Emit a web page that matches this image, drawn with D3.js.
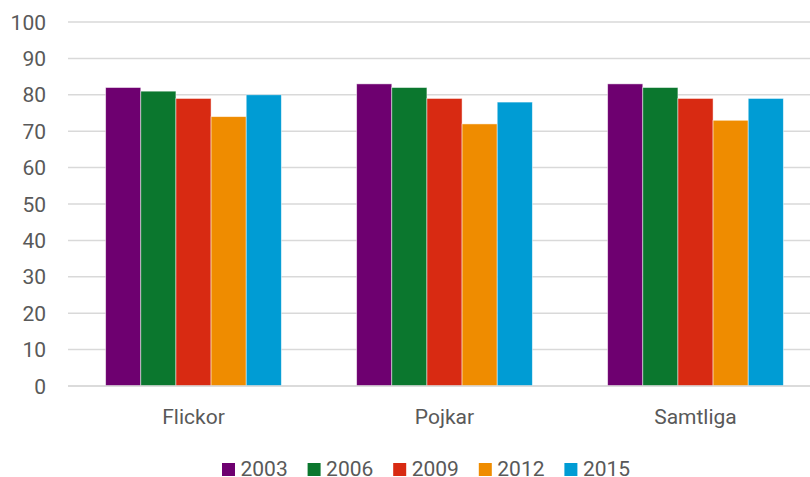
<!DOCTYPE html>
<html>
<head>
<meta charset="utf-8">
<style>
  body { margin: 0; background: #fff; }
  svg { display: block; font-family: Roboto, "Noto Sans", sans-serif; }
</style>
</head>
<body>
<script src="https://cdn.jsdelivr.net/npm/d3@7"></script>
<script>
  const width = 810
  const height = 477

  const categories = ["Flickor", "Pojkar", "Samtliga"]
  const years = ["2003", "2006", "2009", "2012", "2015"]
  const values2003 = [82, 83, 83]
  const values2006 = [81, 82, 82]
  const values2009 = [79, 79, 79]
  const values2012 = [74, 72, 73]
  const values2015 = [80, 78, 79]
  const yTicks = [0, 10, 20, 30, 40, 50, 60, 70, 80, 90, 100]
  const colors = ["#6e0070", "#0b772e", "#d82a12", "#ef8c00", "#009cd4"]

  const seriesValues = [values2003, values2006, values2009, values2012, values2015]

  const svg = d3.select("body")
    .append("svg")
    .attr("width", width)
    .attr("height", height)

  const x0 = d3.scaleBand()
    .domain(categories)
    .range([68, 821])
    .paddingInner(0.3)
    .paddingOuter(0.15)

  const x1 = d3.scaleBand()
    .domain(years)
    .range([0, x0.bandwidth()])

  const y = d3.scaleLinear()
    .domain([0, 100])
    .range([386, 22])

  const color = d3.scaleOrdinal().domain(years).range(colors)

  // gridlines
  svg.append("g")
    .selectAll("line")
    .data(yTicks)
    .enter()
    .append("line")
    .attr("x1", 68)
    .attr("x2", width)
    .attr("y1", d => y(d))
    .attr("y2", d => y(d))
    .attr("stroke", "#d9d9d9")
    .attr("stroke-width", 1.5)

  // y tick labels
  svg.append("g")
    .selectAll("text")
    .data(yTicks)
    .enter()
    .append("text")
    .attr("x", 46)
    .attr("y", d => y(d))
    .attr("dy", "0.36em")
    .attr("text-anchor", "end")
    .attr("font-size", 21)
    .attr("fill", "#595959")
    .text(d => d)

  // bars
  const groups = svg.append("g")
    .selectAll("g")
    .data(categories)
    .enter()
    .append("g")
    .attr("transform", d => `translate(${x0(d)},0)`)

  groups.selectAll("rect")
    .data((c, ci) => years.map((yr, si) => ({ year: yr, value: seriesValues[si][ci] })))
    .enter()
    .append("rect")
    .attr("x", d => x1(d.year))
    .attr("width", x1.bandwidth())
    .attr("y", d => y(d.value))
    .attr("height", d => y(0) - y(d.value))
    .attr("fill", d => color(d.year))
    .attr("stroke", "#fff")
    .attr("stroke-width", 0.8)
    .attr("stroke-opacity", 0.6)

  // baseline over bars
  svg.append("line")
    .attr("x1", 68)
    .attr("x2", width)
    .attr("y1", y(0))
    .attr("y2", y(0))
    .attr("stroke", "#d9d9d9")
    .attr("stroke-width", 1.5)

  // category labels
  svg.append("g")
    .selectAll("text")
    .data(categories)
    .enter()
    .append("text")
    .attr("x", d => x0(d) + x0.bandwidth() / 2)
    .attr("y", 424)
    .attr("text-anchor", "middle")
    .attr("font-size", 21)
    .attr("fill", "#595959")
    .text(d => d)

  // legend
  const legend = svg.append("g")
    .selectAll("g")
    .data(years)
    .enter()
    .append("g")
    .attr("transform", (d, i) => `translate(${222 + i * 85.6},0)`)

  legend.append("rect")
    .attr("x", 0)
    .attr("y", 463)
    .attr("width", 13)
    .attr("height", 13)
    .attr("fill", d => color(d))

  legend.append("text")
    .attr("x", 18.5)
    .attr("y", 476)
    .attr("font-size", 21)
    .attr("fill", "#595959")
    .text(d => d)
</script>
</body>
</html>
